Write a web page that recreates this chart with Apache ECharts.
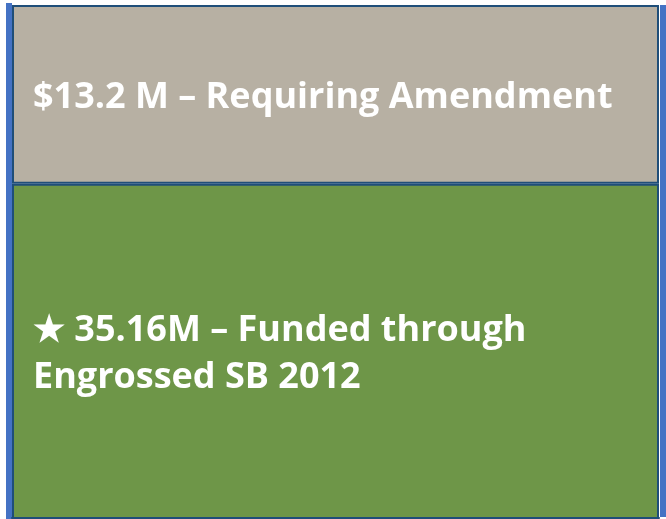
<!DOCTYPE html>
<html>
<head>
<meta charset="utf-8">
<script src="https://cdn.jsdelivr.net/npm/echarts@6/dist/echarts.min.js"></script>
<style>
  html, body { margin: 0; padding: 0; background: #ffffff; }
  #chart { width: 666px; height: 519px; }
</style>
</head>
<body>
<div id="chart"></div>
<script>
// data, bottom segment first
const categories = ['Total'];
const segmentNames = ['★ 35.16M – Funded through\nEngrossed SB 2012', '$13.2 M – Requiring Amendment'];
const fundedValues = [35.16];
const amendmentValues = [13.2];
const segmentColors = ['#6E9648', '#B7B0A3'];

const chart = echarts.init(document.getElementById('chart'));

const labelStyle = {
    show: true,
    position: 'insideLeft',
    distance: 21,
    offset: [0, 3],
    color: '#ffffff',
    fontSize: 36,
    fontWeight: 'bold',
    fontFamily: 'Open Sans',
    lineHeight: 47
};

const option = {
    backgroundColor: '#ffffff',
    animation: false,
    grid: {
        left: 12,
        right: 7,
        top: 5,
        bottom: 1,
        containLabel: false
    },
    xAxis: {
        type: 'category',
        data: categories,
        axisLine: { show: true, lineStyle: { color: '#1F4E79', width: 2 } },
        axisTick: { show: false },
        axisLabel: { show: false }
    },
    yAxis: {
        type: 'value',
        min: 10.5,
        max: 48.36,
        show: false,
        splitLine: { show: false }
    },
    graphic: [
        { type: 'rect', shape: { x: 6, y: 3, width: 6, height: 516 }, style: { fill: '#4472C4' } },
        { type: 'rect', shape: { x: 660, y: 5, width: 6, height: 512 }, style: { fill: '#4472C4' } }
    ],
    series: [
        {
            name: segmentNames[0],
            type: 'bar',
            stack: 'total',
            barWidth: '100%',
            data: fundedValues,
            itemStyle: { color: segmentColors[0], borderColor: '#1F4E79', borderWidth: 2 },
            label: Object.assign({}, labelStyle, { formatter: () => segmentNames[0] })
        },
        {
            name: segmentNames[1],
            type: 'bar',
            stack: 'total',
            barWidth: '100%',
            data: amendmentValues,
            itemStyle: { color: segmentColors[1], borderColor: '#1F4E79', borderWidth: 2 },
            label: Object.assign({}, labelStyle, { formatter: () => segmentNames[1] })
        }
    ]
};

chart.setOption(option);
</script>
</body>
</html>
